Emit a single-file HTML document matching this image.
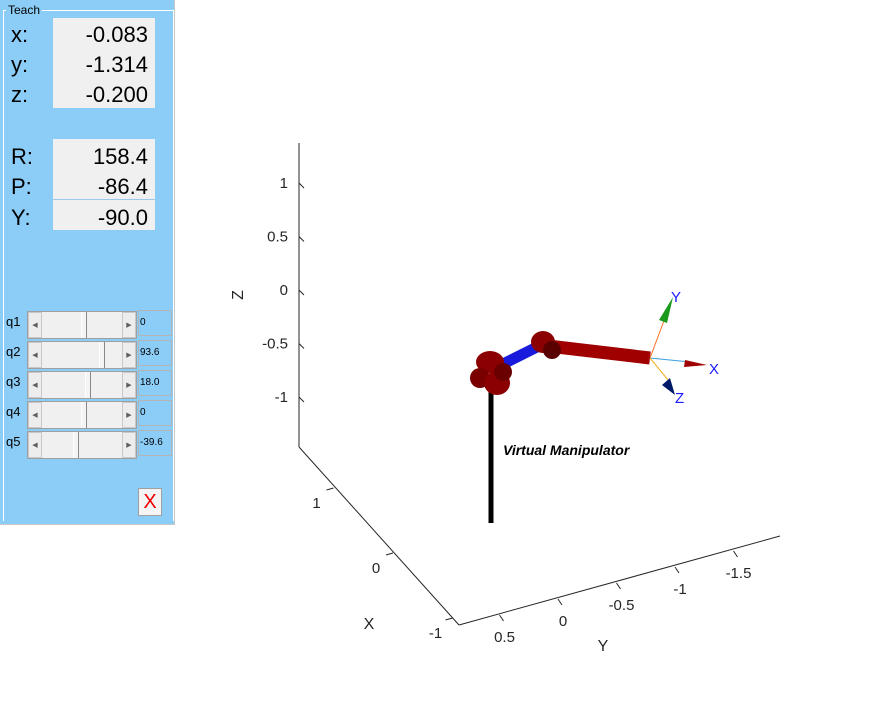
<!DOCTYPE html>
<html><head><meta charset="utf-8"><style>
body{margin:0;width:885px;height:701px;background:#fff;position:relative;overflow:hidden;font-family:"Liberation Sans",sans-serif}
#panel{position:absolute;left:0;top:0;width:174px;height:524px;background:#8ccdf8;border-right:1px solid #c8c8c8;border-bottom:1px solid #c8c8c8}
.frame{position:absolute;left:3px;top:10px;width:169px;height:510px;border:1px solid #fff;border-bottom:none;border-right:1px solid #fff}
.legend{position:absolute;left:6px;top:3px;font-size:12px;background:#8ccdf8;padding:0 2px}
.box{position:absolute;left:53px;width:102px;background:#f0f0f0}
.lbl{position:absolute;left:11px;font-size:22px;color:#000}
.val{position:absolute;right:8px;font-size:22px}
.row{position:absolute;left:0;width:174px;height:30px}
.ql{position:absolute;left:6px;top:4px;font-size:13px}
.sl{position:absolute;left:27px;top:1px;width:110px;height:28px;background:#f0f0f0;border:1px solid #a0a0a0;box-sizing:border-box}
.ar{position:absolute;top:0;width:14px;height:26px;background:#ededed;border:1px solid #c8c8c8;box-sizing:border-box;font-size:7px;color:#606060;line-height:26px;text-align:center}
.th{position:absolute;top:0;width:6px;height:26px;background:#f4f4f4;border-left:1px solid #fff;border-right:1px solid #888;box-sizing:border-box}
.qv{position:absolute;left:138px;top:0;width:34px;height:26px;border:1px solid #b4b4b4;box-sizing:border-box;font-size:10px;line-height:24px;padding-left:1px}
</style></head><body>
<div id="panel">
<div class="frame"></div>
<div class="legend">Teach</div>
<div class="box" style="top:18px;height:90px"></div>
<div class="box" style="top:139px;height:91px"><div style="position:absolute;top:60px;left:0;width:102px;height:1px;background:#9cc9ea"></div></div>
<div class="lbl" style="top:22px">x:</div><div class="val" style="top:22px;right:26px">-0.083</div>
<div class="lbl" style="top:52px">y:</div><div class="val" style="top:52px;right:26px">-1.314</div>
<div class="lbl" style="top:82px">z:</div><div class="val" style="top:82px;right:26px">-0.200</div>
<div class="lbl" style="top:144px">R:</div><div class="val" style="top:144px;right:26px">158.4</div>
<div class="lbl" style="top:174px">P:</div><div class="val" style="top:174px;right:26px">-86.4</div>
<div class="lbl" style="top:205px">Y:</div><div class="val" style="top:205px;right:26px">-90.0</div>
<div id="rows"></div>
<div style="position:absolute;left:138px;top:488px;width:24px;height:28px;background:#f4f4f4;border:1px solid #a0a0a0;box-sizing:border-box;color:#e00;font-size:20px;text-align:center;line-height:26px">X</div>
</div>
<svg id="plot" width="885" height="701" style="position:absolute;left:0;top:0" font-family="Liberation Sans, sans-serif"></svg>
<script>
const joints=['q1','q2','q3','q4','q5'];
const jointVals=['0','93.6','18.0','0','-39.6'];
const thumbX=[80,98,84,80,72];
const rows=document.getElementById('rows');
joints.forEach((q,i)=>{
 const r=document.createElement('div');r.className='row';r.style.top=(310+i*30)+'px';
 
 
 r.innerHTML=`<div class="ql">${q}</div><div class="sl"><div class="ar" style="left:0">&#9664;</div><div class="th" style="left:${thumbX[i]-27}px"></div><div class="ar" style="right:0">&#9654;</div></div><div class="qv">${jointVals[i]}</div>`;
 r.querySelector('.sl');
 r.querySelector('.sl');
 r.querySelector('.qv');
 r.querySelector('.qv');
 rows.appendChild(r);
});
const zTicks=[1,0.5,0,-0.5,-1];
const xTicks=[1,0,-1];
const yTicks=[0.5,0,-0.5,-1,-1.5];
const zy=v=>290-v*107;
const xp=v=>[393-v*59.5,553-v*65];
const yp=v=>[558-v*117,599+v*32];
const svg=document.getElementById('plot');
let h='';
h+=`<line x1="299" y1="143" x2="299" y2="447" stroke="#262626" stroke-width="1"/>`;
h+=`<line x1="299" y1="447" x2="459" y2="625" stroke="#262626"/>`;
h+=`<line x1="459" y1="625" x2="780" y2="536" stroke="#262626"/>`;
zTicks.forEach(v=>{const y=zy(v);h+=`<line x1="299" y1="${y}" x2="304" y2="${y+5}" stroke="#262626"/><text x="288" y="${y+5}" font-size="15" text-anchor="end" fill="#262626">${v}</text>`;});
xTicks.forEach(v=>{const [x,y]=xp(v);h+=`<line x1="${x}" y1="${y}" x2="${x-7}" y2="${y+2}" stroke="#262626"/><text x="${x-17}" y="${y+20}" font-size="15" text-anchor="middle" fill="#262626">${v}</text>`;});
yTicks.forEach(v=>{const [x,y]=yp(v);h+=`<line x1="${x}" y1="${y}" x2="${x+4}" y2="${y+6}" stroke="#262626"/><text x="${x+5}" y="${y+27}" font-size="15" text-anchor="middle" fill="#262626">${v}</text>`;});
h+=`<text x="369" y="629" font-size="16" text-anchor="middle" fill="#262626">X</text>`;
h+=`<text x="603" y="651" font-size="16" text-anchor="middle" fill="#262626">Y</text>`;
h+=`<text transform="translate(243,295) rotate(-90)" font-size="16" text-anchor="middle" fill="#262626">Z</text>`;
// robot
h+=`<line x1="491" y1="390" x2="491" y2="523" stroke="#000" stroke-width="5"/>`;
h+=`<line x1="495" y1="368" x2="545" y2="343" stroke="#1a1adc" stroke-width="11"/>`;
h+=`<line x1="548" y1="346" x2="650" y2="358" stroke="#a00000" stroke-width="13"/>`;
h+=`<ellipse cx="543" cy="342" rx="12" ry="11" fill="#8b0000"/><ellipse cx="552" cy="350" rx="9" ry="9" fill="#5a0000"/>`;
h+=`<ellipse cx="490" cy="362" rx="14" ry="11" fill="#8b0000"/><ellipse cx="480" cy="378" rx="10" ry="10" fill="#7a0000"/><ellipse cx="497" cy="383" rx="13" ry="12" fill="#8b0000"/><ellipse cx="503" cy="372" rx="9" ry="9" fill="#6a0000"/>`;
h+=`<line x1="650" y1="358" x2="668" y2="310" stroke="#ff6a1a" stroke-width="1"/><polygon points="673,297 659,320 667,323" fill="#1a9a1a"/>`;
h+=`<line x1="650" y1="358" x2="690" y2="362" stroke="#3aa0e0" stroke-width="1"/><polygon points="707,365 685,360 684,367" fill="#a00000"/>`;
h+=`<line x1="650" y1="358" x2="668" y2="380" stroke="#f0b020" stroke-width="1"/><polygon points="675,395 662,385 670,378" fill="#001a6a"/>`;
h+=`<text x="671" y="302" font-size="15" fill="#1a1aff">Y</text><text x="709" y="374" font-size="15" fill="#1a1aff">X</text><text x="675" y="403" font-size="15" fill="#1a1aff">Z</text>`;
h+=`<text x="503" y="455" font-size="14" font-weight="bold" font-style="italic" fill="#000">Virtual Manipulator</text>`;
svg.innerHTML=h;
</script>
</body></html>
